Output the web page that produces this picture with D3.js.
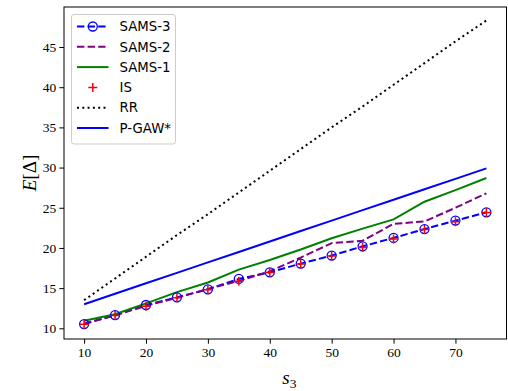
<!DOCTYPE html>
<html>
<head>
<meta charset="utf-8">
<script src="https://cdn.jsdelivr.net/npm/d3@7"></script>
<style>
  body { margin: 0; background: #fff; }
  svg { display: block; }
  .tick text { font-family: "Liberation Serif", "DejaVu Serif", serif; font-size: 13.5px; fill: #000; }
</style>
</head>
<body>
<div id="chart"></div>
<script>
// x values (s_3)
const s3 = [10, 15, 20, 25, 30, 35, 40, 45, 50, 55, 60, 65, 70, 75];

// series
const sams3 = [10.53, 11.65, 12.9, 13.85, 14.85, 16.15, 16.97, 18.05, 19.05, 20.2, 21.25, 22.35, 23.4, 24.43];
const sams2 = [10.6, 11.6, 12.8, 13.8, 14.9, 15.9, 17.1, 18.8, 20.6, 20.9, 23.0, 23.3, 25.0, 26.8];
const sams1 = [10.95, 11.75, 13.1, 14.5, 15.7, 17.3, 18.5, 19.8, 21.2, 22.4, 23.55, 25.75, 27.2, 28.7];
const isVals = [10.5, 11.6, 12.75, 13.8, 14.8, 15.85, 16.95, 18.0, 19.0, 20.05, 21.1, 22.3, 23.25, 24.4];
const rr = [13.5, 16.2, 18.9, 21.6, 24.2, 26.9, 29.6, 32.3, 35.0, 37.6, 40.3, 43.0, 45.7, 48.3];
const pgaw = [13.0, 14.3, 15.6, 16.9, 18.2, 19.5, 20.8, 22.1, 23.4, 24.7, 26.0, 27.3, 28.6, 29.9];

const xTicks = [10, 20, 30, 40, 50, 60, 70];
const yTicks = [10, 15, 20, 25, 30, 35, 40, 45];

const series = [
  { name: 'SAMS-3', values: sams3, color: '#0000ff', dash: '7.4,3.2', line: true, marker: 'circle' },
  { name: 'SAMS-2', values: sams2, color: '#800080', dash: '7.4,3.2', line: true },
  { name: 'SAMS-1', values: sams1, color: '#008000', dash: null, line: true },
  { name: 'IS', values: isVals, color: '#ff0000', line: false, marker: 'plus' },
  { name: 'RR', values: rr, color: '#000000', dash: '2,3.3', line: true },
  { name: 'P-GAW*', values: pgaw, color: '#0000ff', dash: null, line: true }
];

const W = 508, H = 391;
const margin = { top: 7, right: 1.5, bottom: 52, left: 64 };
const width = W - margin.left - margin.right;
const height = H - margin.top - margin.bottom;

const svg = d3.select('#chart').append('svg')
  .attr('width', W)
  .attr('height', H);

const g = svg.append('g')
  .attr('transform', `translate(${margin.left},${margin.top})`);

const x = d3.scaleLinear().domain([6.75, 78.25]).range([0, width]);
const y = d3.scaleLinear().domain([8.67, 49.98]).range([height, 0]);

// axes
const xAxis = g.append('g')
  .attr('transform', `translate(0,${height})`)
  .call(d3.axisBottom(x).tickValues(xTicks).tickSize(4.7).tickPadding(4).tickFormat(d3.format('d')));
const yAxis = g.append('g')
  .call(d3.axisLeft(y).tickValues(yTicks).tickSize(4.7).tickPadding(3).tickFormat(d3.format('d')));
[xAxis, yAxis].forEach(a => {
  a.select('.domain').remove();
  a.selectAll('.tick line').attr('stroke', '#000').attr('stroke-width', 1);
});

// lines
const line = d3.line()
  .x((d, i) => x(s3[i]))
  .y(d => y(d));

series.filter(s => s.line).forEach(s => {
  g.append('path')
    .datum(s.values)
    .attr('fill', 'none')
    .attr('stroke', s.color)
    .attr('stroke-width', 2)
    .attr('stroke-dasharray', s.dash)
    .attr('d', line);
});

// markers
function drawMarker(sel, type, color, cx, cy) {
  if (type === 'circle') {
    sel.append('circle')
      .attr('cx', cx).attr('cy', cy).attr('r', 4.5)
      .attr('fill', 'none').attr('stroke', color).attr('stroke-width', 1.3);
  } else if (type === 'plus') {
    const r = 4.5;
    sel.append('path')
      .attr('d', `M${cx - r},${cy}H${cx + r}M${cx},${cy - r}V${cy + r}`)
      .attr('stroke', color).attr('stroke-width', 1.5);
  }
}

series.filter(s => s.marker).forEach(s => {
  const mg = g.append('g');
  s.values.forEach((v, i) => drawMarker(mg, s.marker, s.color, x(s3[i]), y(v)));
});

// frame
g.append('rect')
  .attr('width', width).attr('height', height)
  .attr('fill', 'none').attr('stroke', '#000').attr('stroke-width', 1);

// legend
const legend = g.append('g').attr('transform', 'translate(7.5,7.5)');
legend.append('rect')
  .attr('width', 104).attr('height', 129.5)
  .attr('rx', 2.5)
  .attr('fill', '#fff').attr('fill-opacity', 0.8)
  .attr('stroke', '#cccccc').attr('stroke-width', 1);

series.forEach((s, i) => {
  const cy = 12 + i * 20.3;
  const row = legend.append('g');
  if (s.line) {
    row.append('line')
      .attr('x1', 5.5).attr('x2', 37)
      .attr('y1', cy).attr('y2', cy)
      .attr('stroke', s.color).attr('stroke-width', 2)
      .attr('stroke-dasharray', s.dash);
  }
  if (s.marker) drawMarker(row, s.marker, s.color, 21.3, cy);
  row.append('text')
    .attr('x', 48).attr('y', cy)
    .attr('dy', '0.36em')
    .attr('font-family', 'DejaVu Sans, sans-serif')
    .attr('font-size', 13.3)
    .text(s.name);
});

// axis labels
svg.append('text')
  .attr('x', margin.left + width / 2 - 3)
  .attr('y', 384)
  .attr('font-family', 'Liberation Serif, DejaVu Serif, serif')
  .attr('font-size', 19)
  .attr('font-style', 'italic')
  .html('s<tspan font-size="13.5" font-style="normal" dy="4">3</tspan>');

svg.append('text')
  .attr('transform', `translate(36,${margin.top + height / 2}) rotate(-90)`)
  .attr('text-anchor', 'middle')
  .attr('font-family', 'Liberation Serif, DejaVu Serif, serif')
  .attr('font-size', 19)
  .html('<tspan font-style="italic">E</tspan>[Δ]');
</script>
</body>
</html>
